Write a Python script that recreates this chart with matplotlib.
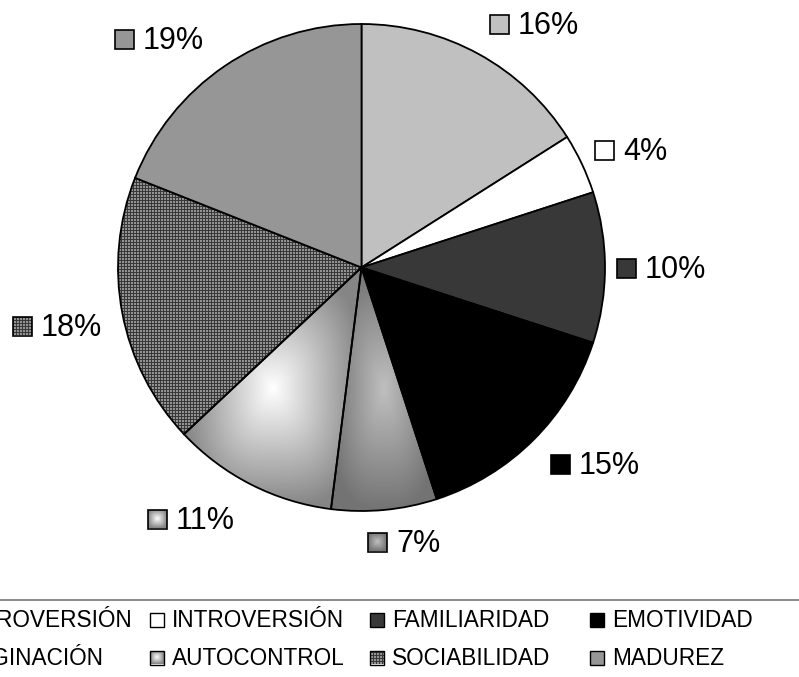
import numpy as np
import matplotlib
matplotlib.use("Agg")
import matplotlib.pyplot as plt
from matplotlib.patches import Rectangle

plt.rcParams['font.family'] = ['Liberation Sans', 'DejaVu Sans']

# ---- data ----
categories = ['EXTROVERSIÓN', 'INTROVERSIÓN', 'FAMILIARIDAD', 'EMOTIVIDAD',
              'IMAGINACIÓN', 'AUTOCONTROL', 'SOCIABILIDAD', 'MADUREZ']
values = [16, 4, 10, 15, 7, 11, 18, 19]
pct_labels = [f'{v}%' for v in values]

# ---- styles ----
fills = ['#c0c0c0', '#ffffff', '#383838', '#000000',
         'grad_gray', 'grad_white', 'pattern', '#969696']
grad_colors = {'grad_gray': (0.75, 0.45), 'grad_white': (1.0, 0.52)}
# label anchor (left x of marker, centre y) in pixels from top-left
label_pos = [(490, 24), (595, 150), (617, 268), (551, 464),
             (368, 542), (148, 519), (13, 326), (115, 39)]

W, H = 799, 677
fig = plt.figure(figsize=(W / 100, H / 100), dpi=100)
ax = fig.add_axes([0, 0, 1, 1])
cx, cy, R = 361.5, H - 267.5, 243.5

face = [f if f.startswith('#') else 'none' for f in fills]
wedges, _ = ax.pie(values, colors=face, startangle=90, counterclock=False,
                   center=(cx, cy), radius=R,
                   wedgeprops=dict(edgecolor='black', linewidth=1.3))


def rect_gradient(nx, ny, c0, c1):
    x = np.linspace(-1, 1, nx)
    y = np.linspace(-1, 1, ny)
    X, Y = np.meshgrid(x, y)
    p = 3.0
    t = np.clip((np.abs(X) ** p + np.abs(Y) ** p) ** (1 / p), 0, 1)
    return c0 + (c1 - c0) * t


def pattern(nx, ny):
    j = np.arange(nx)[None, :]
    i = np.arange(ny)[:, None]
    return np.where((i % 3 == 0) | (j % 3 == 0), 0.22, 0.58).astype(float)


def draw_fill(kind, x0, x1, y0, y1, clip):
    if kind in grad_colors:
        c0, c1 = grad_colors[kind]
        arr = rect_gradient(200, 200, c0, c1)
        im = ax.imshow(arr, cmap='gray', vmin=0, vmax=1, extent=(x0, x1, y0, y1),
                       origin='lower', interpolation='bilinear', zorder=0.5)
    else:
        x0i, y0i = np.floor(x0), np.floor(y0)
        nx, ny = int(np.ceil(x1 - x0i)) + 1, int(np.ceil(y1 - y0i)) + 1
        arr = pattern(nx, ny)
        im = ax.imshow(arr, cmap='gray', vmin=0, vmax=1,
                       extent=(x0i, x0i + nx, y0i, y0i + ny),
                       origin='lower', interpolation='nearest', zorder=0.5)
    im.set_clip_path(clip)


for w, f in zip(wedges, fills):
    if f.startswith('#'):
        continue
    ang = np.radians(np.linspace(w.theta1, w.theta2, 300))
    xs = np.concatenate([[cx], cx + R * np.cos(ang)])
    ys = np.concatenate([[cy], cy + R * np.sin(ang)])
    draw_fill(f, xs.min(), xs.max(), ys.min(), ys.max(), w)


def marker(x, yc, size, f, lw):
    y0 = H - yc - size / 2
    if f.startswith('#'):
        r = Rectangle((x, y0), size, size, facecolor=f, edgecolor='black',
                      linewidth=lw, zorder=3)
        ax.add_patch(r)
    else:
        r = Rectangle((x, y0), size, size, facecolor='none', edgecolor='black',
                      linewidth=lw, zorder=3)
        ax.add_patch(r)
        draw_fill(f, x, x + size, y0, y0 + size, r)


# percentage labels
for (lx, ly), lab, f in zip(label_pos, pct_labels, fills):
    marker(lx, ly, 19, f, 1.2)
    ax.text(lx + 28, H - (ly + 10.4), lab, fontsize=22, ha='left',
            va='baseline', color='black')

# legend (manual, matching the cut-off layout)
ax.plot([0, W], [H - 600, H - 600], color='#808080', linewidth=1.3,
        solid_capstyle='butt')
col_x = [-70, 150, 370, 590]
row_y = [619.5, 657.5]
for k, (name, f) in enumerate(zip(categories, fills)):
    r, c = divmod(k, 4)
    mx, my = col_x[c], row_y[r]
    marker(mx, my, 14, f, 1.0)
    ax.text(mx + 22, H - (my + 7.8), name, fontsize=16.3, ha='left',
            va='baseline', color='black', clip_on=False)

ax.set_xlim(0, W)
ax.set_ylim(0, H)
ax.set_aspect('equal')
ax.axis('off')

fig.savefig('out.png', dpi=100)
